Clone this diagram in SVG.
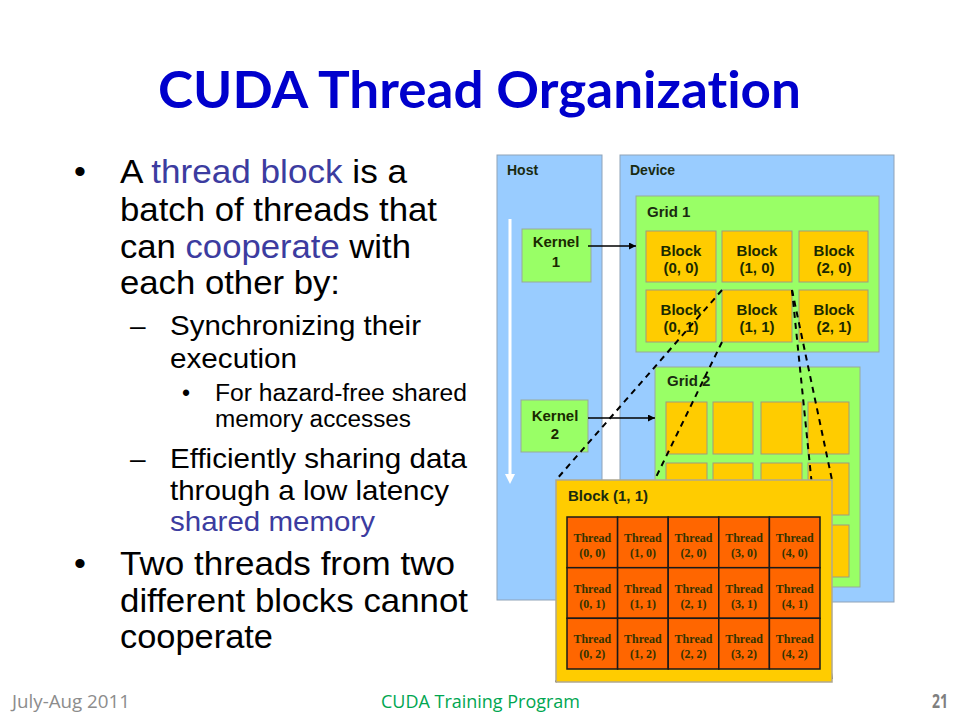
<svg xmlns="http://www.w3.org/2000/svg" width="960" height="720" viewBox="0 0 960 720">
<style>
text{font-variant-ligatures:none}
.body{font-family:"Liberation Sans",Arial,sans-serif;fill:#000}
.hl{fill:#3c3ca0}
.lbl{font-family:"Liberation Sans",Arial,sans-serif;font-weight:bold;fill:#1a2a10}
.blk{font-family:"Liberation Sans",Arial,sans-serif;font-weight:bold;font-size:15px;fill:#1a2a00;text-anchor:middle}
.thr{font-family:"Liberation Serif","Times New Roman",serif;font-weight:bold;font-size:12px;fill:#333300;text-anchor:middle}
.bg{fill:#99ccff;stroke:#8fa3b8;stroke-width:1}
.grid{fill:#99ff66;stroke:#99aa99;stroke-width:1}
.block{fill:#ffcc00;stroke:#a09a80;stroke-width:1}
.cell{fill:#ff6600;stroke:#1a1a1a;stroke-width:1.5}
.dash{fill:none;stroke:#000;stroke-width:2;stroke-dasharray:6 5}
.foot{font-family:"Open Sans","Liberation Sans",sans-serif;font-size:19px}
</style>
<defs>
<marker id="ah" viewBox="0 0 10 10" refX="10" refY="5" markerWidth="7" markerHeight="7" markerUnits="userSpaceOnUse" orient="auto">
<path d="M0,0 L10,5 L0,10 z" fill="#000"/>
</marker>
</defs>
<rect width="960" height="720" fill="#fff"/>

<g id="title">
<text x="158" y="108" font-family="Lato,'Liberation Sans',sans-serif" font-weight="bold" font-size="52" fill="#0000cc" textLength="643" lengthAdjust="spacingAndGlyphs">CUDA Thread Organization</text>
</g>

<g id="bullets" class="body">
<text x="74" y="183" font-size="34">•</text>
<text x="120" y="183" font-size="34" textLength="287" lengthAdjust="spacingAndGlyphs">A <tspan class="hl">thread block</tspan> is a</text>
<text x="120" y="221" font-size="34" textLength="317" lengthAdjust="spacingAndGlyphs">batch of threads that</text>
<text x="120" y="258" font-size="34" textLength="291" lengthAdjust="spacingAndGlyphs">can <tspan class="hl">cooperate</tspan> with</text>
<text x="120" y="294" font-size="34" textLength="220" lengthAdjust="spacingAndGlyphs">each other by:</text>
<text x="130" y="335" font-size="28">–</text>
<text x="170" y="335" font-size="28" textLength="251" lengthAdjust="spacingAndGlyphs">Synchronizing their</text>
<text x="170" y="368" font-size="28" textLength="127" lengthAdjust="spacingAndGlyphs">execution</text>
<text x="182" y="401" font-size="23">•</text>
<text x="215" y="401" font-size="23" textLength="252" lengthAdjust="spacingAndGlyphs">For hazard-free shared</text>
<text x="215" y="427" font-size="23" textLength="196" lengthAdjust="spacingAndGlyphs">memory accesses</text>
<text x="130" y="468" font-size="28">–</text>
<text x="170" y="468" font-size="28" textLength="297" lengthAdjust="spacingAndGlyphs">Efficiently sharing data</text>
<text x="170" y="500" font-size="28" textLength="279" lengthAdjust="spacingAndGlyphs">through a low latency</text>
<text x="170" y="531" font-size="28" class="hl" textLength="205" lengthAdjust="spacingAndGlyphs">shared memory</text>
<text x="74" y="575" font-size="34">•</text>
<text x="120" y="575" font-size="34" textLength="335" lengthAdjust="spacingAndGlyphs">Two threads from two</text>
<text x="120" y="612" font-size="34" textLength="348" lengthAdjust="spacingAndGlyphs">different blocks cannot</text>
<text x="120" y="648" font-size="34" textLength="153" lengthAdjust="spacingAndGlyphs">cooperate</text>
</g>

<g id="host">
<rect class="bg" x="497" y="155" width="105" height="445"/>
<text class="lbl" x="507" y="175" font-size="14">Host</text>
<line x1="510" y1="219" x2="510" y2="476" stroke="#fff" stroke-width="3"/>
<path d="M505,474 L515,474 L510,484 z" fill="#fff"/>
</g>

<g id="device">
<rect class="bg" x="620" y="155" width="274" height="447"/>
<text class="lbl" x="630" y="175" font-size="14">Device</text>
</g>

<g id="kernel1">
<rect class="grid" x="522" y="229" width="69" height="53"/>
<text class="blk" x="556" y="247">Kernel</text>
<text class="blk" x="556" y="267">1</text>
</g>

<g id="kernel2">
<rect class="grid" x="521" y="400" width="67" height="52"/>
<text class="blk" x="555" y="421">Kernel</text>
<text class="blk" x="555" y="439">2</text>
</g>

<g id="grid1">
<rect class="grid" x="636" y="196" width="243" height="156"/>
<text class="lbl" x="647" y="217" font-size="15">Grid 1</text>
</g>
<g id="block00"><rect class="block" x="646" y="231" width="70" height="51"/><text class="blk" x="681" y="256">Block</text><text class="blk" x="681" y="273">(0, 0)</text></g>
<g id="block10"><rect class="block" x="722" y="231" width="70" height="51"/><text class="blk" x="757" y="256">Block</text><text class="blk" x="757" y="273">(1, 0)</text></g>
<g id="block20"><rect class="block" x="799" y="231" width="69" height="51"/><text class="blk" x="834" y="256">Block</text><text class="blk" x="834" y="273">(2, 0)</text></g>
<g id="block01"><rect class="block" x="646" y="290" width="70" height="52"/><text class="blk" x="681" y="315">Block</text><text class="blk" x="681" y="332">(0, 1)</text></g>
<g id="block11"><rect class="block" x="722" y="290" width="70" height="52"/><text class="blk" x="757" y="315">Block</text><text class="blk" x="757" y="332">(1, 1)</text></g>
<g id="block21"><rect class="block" x="799" y="290" width="69" height="52"/><text class="blk" x="834" y="315">Block</text><text class="blk" x="834" y="332">(2, 1)</text></g>

<g id="grid2">
<rect class="grid" x="655" y="367" width="205" height="220"/>
<text class="lbl" x="667" y="386" font-size="15">Grid 2</text>
<rect class="block" x="666" y="402" width="41" height="52"/>
<rect class="block" x="713" y="402" width="40" height="52"/>
<rect class="block" x="761" y="402" width="41" height="52"/>
<rect class="block" x="808" y="402" width="41" height="52"/>
<rect class="block" x="666" y="463" width="41" height="52"/>
<rect class="block" x="713" y="463" width="40" height="52"/>
<rect class="block" x="761" y="463" width="41" height="52"/>
<rect class="block" x="808" y="463" width="41" height="52"/>
<rect class="block" x="666" y="525" width="41" height="52"/>
<rect class="block" x="713" y="525" width="40" height="52"/>
<rect class="block" x="761" y="525" width="41" height="52"/>
<rect class="block" x="808" y="525" width="41" height="52"/>
</g>

<g id="connectors">
<line x1="588" y1="246" x2="636" y2="246" stroke="#000" stroke-width="1.5" marker-end="url(#ah)"/>
<line x1="588" y1="418" x2="655" y2="418" stroke="#000" stroke-width="1.5" marker-end="url(#ah)"/>
<line class="dash" x1="722" y1="290" x2="556" y2="480"/>
<line class="dash" x1="722" y1="342" x2="556" y2="682"/>
<line class="dash" x1="792" y1="290" x2="832" y2="480"/>
<line class="dash" x1="792" y1="290" x2="832" y2="682"/>
</g>

<g id="block11-detail">
<rect x="556" y="480" width="276" height="202" fill="#ffcc00" stroke="#b0a890" stroke-width="1.5"/>
<text class="lbl" x="568" y="501" font-size="15">Block (1, 1)</text>
<g>
<rect class="cell" x="567" y="517" width="50.6" height="50.7"/>
<rect class="cell" x="617.6" y="517" width="50.6" height="50.7"/>
<rect class="cell" x="668.2" y="517" width="50.6" height="50.7"/>
<rect class="cell" x="718.8" y="517" width="50.6" height="50.7"/>
<rect class="cell" x="769.4" y="517" width="50.6" height="50.7"/>
<rect class="cell" x="567" y="567.7" width="50.6" height="50.6"/>
<rect class="cell" x="617.6" y="567.7" width="50.6" height="50.6"/>
<rect class="cell" x="668.2" y="567.7" width="50.6" height="50.6"/>
<rect class="cell" x="718.8" y="567.7" width="50.6" height="50.6"/>
<rect class="cell" x="769.4" y="567.7" width="50.6" height="50.6"/>
<rect class="cell" x="567" y="618.3" width="50.6" height="50.7"/>
<rect class="cell" x="617.6" y="618.3" width="50.6" height="50.7"/>
<rect class="cell" x="668.2" y="618.3" width="50.6" height="50.7"/>
<rect class="cell" x="718.8" y="618.3" width="50.6" height="50.7"/>
<rect class="cell" x="769.4" y="618.3" width="50.6" height="50.7"/>
</g>
<g>
<text class="thr" x="592.3" y="542">Thread</text><text class="thr" x="592.3" y="557">(0, 0)</text>
<text class="thr" x="642.9" y="542">Thread</text><text class="thr" x="642.9" y="557">(1, 0)</text>
<text class="thr" x="693.5" y="542">Thread</text><text class="thr" x="693.5" y="557">(2, 0)</text>
<text class="thr" x="744.1" y="542">Thread</text><text class="thr" x="744.1" y="557">(3, 0)</text>
<text class="thr" x="794.7" y="542">Thread</text><text class="thr" x="794.7" y="557">(4, 0)</text>
<text class="thr" x="592.3" y="593">Thread</text><text class="thr" x="592.3" y="608">(0, 1)</text>
<text class="thr" x="642.9" y="593">Thread</text><text class="thr" x="642.9" y="608">(1, 1)</text>
<text class="thr" x="693.5" y="593">Thread</text><text class="thr" x="693.5" y="608">(2, 1)</text>
<text class="thr" x="744.1" y="593">Thread</text><text class="thr" x="744.1" y="608">(3, 1)</text>
<text class="thr" x="794.7" y="593">Thread</text><text class="thr" x="794.7" y="608">(4, 1)</text>
<text class="thr" x="592.3" y="643">Thread</text><text class="thr" x="592.3" y="658">(0, 2)</text>
<text class="thr" x="642.9" y="643">Thread</text><text class="thr" x="642.9" y="658">(1, 2)</text>
<text class="thr" x="693.5" y="643">Thread</text><text class="thr" x="693.5" y="658">(2, 2)</text>
<text class="thr" x="744.1" y="643">Thread</text><text class="thr" x="744.1" y="658">(3, 2)</text>
<text class="thr" x="794.7" y="643">Thread</text><text class="thr" x="794.7" y="658">(4, 2)</text>
</g>
</g>

<g id="footer" class="foot">
<text x="12" y="708" fill="#8c8c8c" textLength="118" lengthAdjust="spacingAndGlyphs">July-Aug 2011</text>
<text x="381" y="708" fill="#00a651" textLength="199" lengthAdjust="spacingAndGlyphs">CUDA Training Program</text>
<text x="932" y="708" fill="#7f7f7f" font-weight="bold" textLength="16" lengthAdjust="spacingAndGlyphs">21</text>
</g>
</svg>
